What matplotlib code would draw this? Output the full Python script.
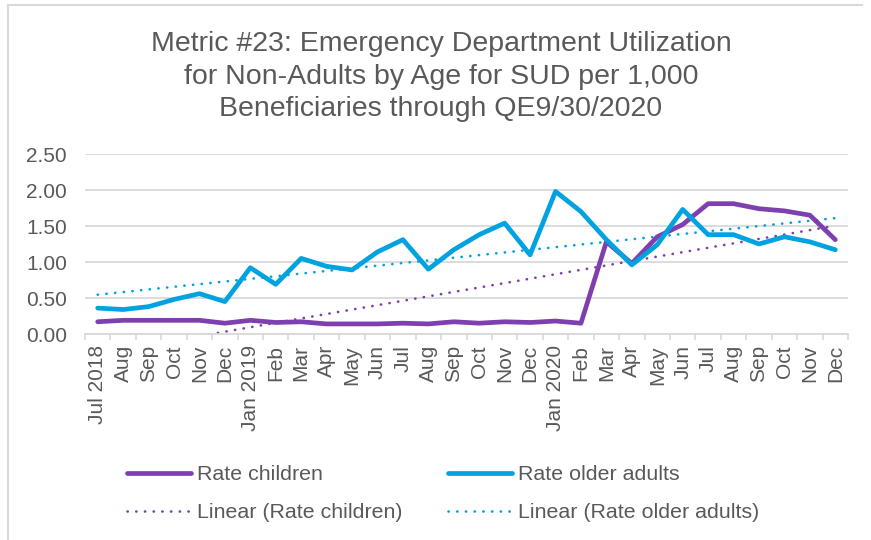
import numpy as np
import matplotlib.pyplot as plt
from matplotlib.lines import Line2D

plt.rcParams['font.family'] = ['Liberation Sans', 'DejaVu Sans']

months = ["Jul 2018", "Aug", "Sep", "Oct", "Nov", "Dec",
          "Jan 2019", "Feb", "Mar", "Apr", "May", "Jun", "Jul", "Aug", "Sep", "Oct", "Nov", "Dec",
          "Jan 2020", "Feb", "Mar", "Apr", "May", "Jun", "Jul", "Aug", "Sep", "Oct", "Nov", "Dec"]
rate_children = [0.17, 0.19, 0.19, 0.19, 0.19, 0.15, 0.19, 0.16, 0.17, 0.14,
                 0.14, 0.14, 0.15, 0.14, 0.17, 0.15, 0.17, 0.16, 0.18, 0.15,
                 1.28, 0.98, 1.35, 1.52, 1.81, 1.81, 1.74, 1.71, 1.65, 1.31]
rate_older = [0.36, 0.34, 0.38, 0.48, 0.56, 0.45, 0.92, 0.69, 1.05, 0.94,
              0.89, 1.14, 1.31, 0.90, 1.17, 1.38, 1.54, 1.10, 1.98, 1.70,
              1.31, 0.96, 1.24, 1.73, 1.38, 1.38, 1.25, 1.35, 1.28, 1.17]

purple = '#7E3FAF'
blue = '#00A3E0'
grey = '#595959'
light = '#D9D9D9'
dots = (0, (0.1, 3.2))

x = np.arange(len(months))
fit_c = np.polyval(np.polyfit(x, rate_children, 1), x)
fit_o = np.polyval(np.polyfit(x, rate_older, 1), x)

fig = plt.figure(figsize=(8.71, 5.4), dpi=100)
ax = fig.add_axes([85/871, 1-334/540, 763/871, 180/540])

l1, = ax.plot(x, rate_children, color=purple, lw=3.4, solid_joinstyle='round', solid_capstyle='round', zorder=3)
l2, = ax.plot(x, rate_older, color=blue, lw=3.4, solid_joinstyle='round', solid_capstyle='round', zorder=3)
l3, = ax.plot(x, fit_c, color=purple, lw=1.9, ls=dots, dash_capstyle='round', zorder=2)
l4, = ax.plot(x, fit_o, color=blue, lw=1.9, ls=dots, dash_capstyle='round', zorder=2)

ax.set_xlim(-0.5, len(months) - 0.5)
ax.set_ylim(0, 2.5)
ax.set_yticks(np.arange(0, 2.51, 0.5))
ax.set_yticklabels(['%.2f' % v for v in np.arange(0, 2.51, 0.5)])
ax.set_xticks(x)
ax.set_xticklabels(months, rotation=90)
ax.set_xticks(np.arange(-0.5, len(months), 1), minor=True)
ax.tick_params(axis='x', which='major', length=0, pad=8, labelsize=15, labelcolor=grey)
ax.tick_params(axis='x', which='minor', length=4, color=light, width=1.2)
ax.tick_params(axis='y', length=0, labelsize=15, labelcolor=grey, pad=13)
ax.grid(axis='y', color=light, lw=1.3)
ax.set_axisbelow(True)
for s in ['top', 'right', 'left']:
    ax.spines[s].set_visible(False)
ax.spines['bottom'].set_color(light)
ax.spines['bottom'].set_linewidth(1.3)

fig.text(441/871, 1-31/540, "Metric #23: Emergency Department Utilization\nfor Non-Adults by Age for SUD per 1,000\nBeneficiaries through QE9/30/2020",
         ha='center', va='top', fontsize=20.5, color=grey, linespacing=1.33)

leg_kw = dict(loc='upper left', frameon=False, fontsize=15.4, labelcolor=grey,
              handlelength=3.0, handletextpad=0.25, labelspacing=0.9,
              borderpad=0, borderaxespad=0)
lg1 = fig.legend([l1, l3], ['Rate children', 'Linear (Rate children)'],
                 bbox_to_anchor=(127/871, 1-465/540), **leg_kw)
lg2 = fig.legend([l2, l4], ['Rate older adults', 'Linear (Rate older adults)'],
                 bbox_to_anchor=(448/871, 1-465/540), **leg_kw)

fig.add_artist(Line2D([8/871, 8/871], [0, 1-5/540], transform=fig.transFigure, color=light, lw=1.5))
fig.add_artist(Line2D([8/871, 862/871], [1-5/540, 1-5/540], transform=fig.transFigure, color=light, lw=1.5))

fig.savefig('out.png', dpi=100)
